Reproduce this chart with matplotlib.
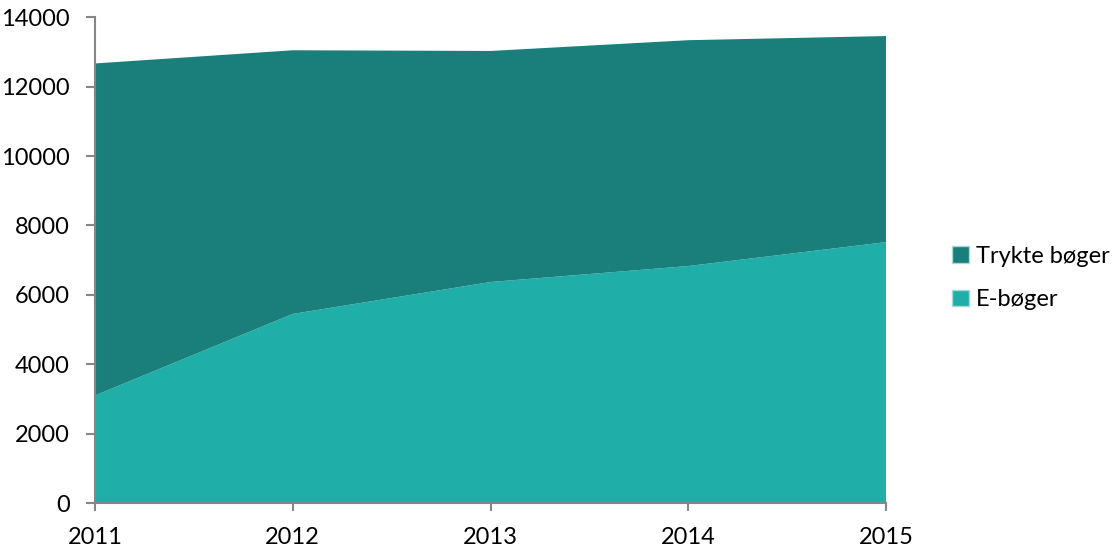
import matplotlib
matplotlib.use('Agg')
import matplotlib.pyplot as plt
from matplotlib.patches import Patch

plt.rcParams['font.family'] = ['Lato', 'DejaVu Sans']

years = [2011, 2012, 2013, 2014, 2015]
e_boger = [3100, 5450, 6370, 6830, 7520]
trykte_boger = [9570, 7600, 6660, 6510, 5940]

c_trykte = '#1A7F7A'
c_e = '#20AEA9'
grey = '#868686'

fig = plt.figure(figsize=(11.19, 5.52), dpi=100)
ax = fig.add_axes([95 / 1119, 1 - 503 / 552, (886 - 95) / 1119, (503 - 17.3) / 552])

ax.stackplot(years, e_boger, trykte_boger, colors=[c_e, c_trykte], linewidth=0)

ax.set_xlim(2011, 2015)
ax.set_ylim(0, 14000)
ax.set_xticks(years)
ax.set_yticks(range(0, 14001, 2000))

for s in ['top', 'right']:
    ax.spines[s].set_visible(False)
for s in ['left', 'bottom']:
    ax.spines[s].set_color(grey)
    ax.spines[s].set_linewidth(1.5)
ax.tick_params(axis='y', direction='out', length=6.5, width=1.5, color=grey, pad=11.5, labelsize=17)
ax.tick_params(axis='x', direction='out', length=6, width=1.5, color=grey, pad=11, labelsize=17)

handles = [Patch(facecolor=c_trykte, edgecolor='#a8d8d6', label='Trykte bøger'),
           Patch(facecolor=c_e, edgecolor='#a8d8d6', label='E-bøger')]
fig.legend(handles=handles, loc='center left', bbox_to_anchor=(952 / 1119, 1 - 278 / 552),
           frameon=False, fontsize=17, handlelength=0.72, handleheight=0.72,
           handletextpad=0.3, labelspacing=0.95, borderpad=0, borderaxespad=0)

fig.savefig('out.png', dpi=100)
